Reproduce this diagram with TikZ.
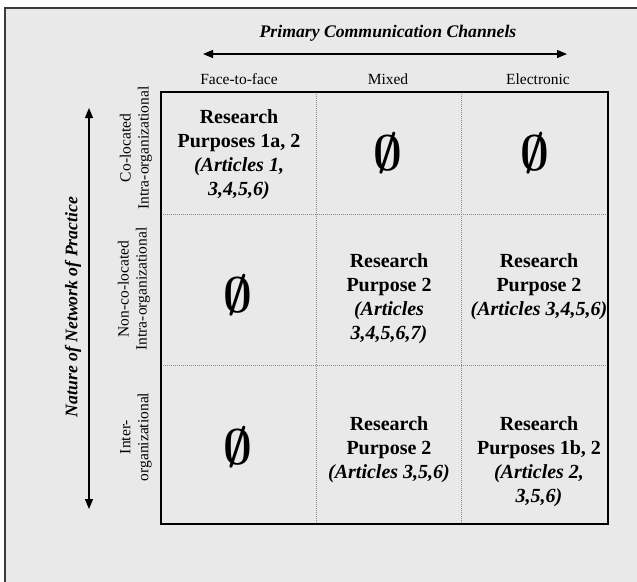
\RequirePackage{fix-cm}
\documentclass[tikz,border=0pt]{standalone}
\usepackage{fontspec}
\setmainfont{Liberation Serif}
\usetikzlibrary{arrows.meta}
\definecolor{panelgray}{HTML}{E9E9E9}
\definecolor{framegray}{HTML}{3C3C3C}
\definecolor{gridgray}{HTML}{8C8C8C}
\begin{document}
\begin{tikzpicture}[x=1pt,y=-1pt,
  heading/.style={font=\fontsize{17.7}{20}\selectfont\bfseries\itshape, inner sep=0},
  chanlabel/.style={font=\fontsize{15.5}{18}\selectfont, inner sep=0},
  rowlabel/.style={font=\fontsize{15.5}{18}\selectfont, align=center, rotate=90, inner sep=0},
  celltext/.style={font=\fontsize{20}{24}\selectfont\bfseries, align=center, inner sep=0},
  emptycell/.style={font=\fontsize{50}{50}\selectfont\boldmath, inner sep=0},
  axisarrow/.style={line width=1.2pt, {Triangle[length=10pt,width=8pt]}-{Triangle[length=10pt,width=8pt]}},
  outerbox/.style={draw=black, line width=1.4pt},
  cellrule/.style={draw=gridgray, line width=0.8pt, dash pattern=on 1pt off 1pt}]
\useasboundingbox (0,0) rectangle (637,581);

% panel behind everything
\begin{scope}
  \clip (0,0) rectangle (637,581);
  \draw[fill=panelgray, draw=framegray, line width=1.5pt] (5,8) rectangle (660,600);
\end{scope}

% horizontal axis
\node[heading] (htitle) at (388,33) {Primary Communication Channels};
\coordinate (hleft) at (203,54);
\coordinate (hright) at (567,54);
\draw[axisarrow] (hleft) -- (hright);
\node[chanlabel] (cf2f) at (239,79) {Face-to-face};
\node[chanlabel] (cmix) at (388,79) {Mixed};
\node[chanlabel] (cele) at (538,79) {Electronic};

% vertical axis
\node[heading, rotate=90] (vtitle) at (73,307) {Nature of Network of Practice};
\coordinate (vtop) at (89,108);
\coordinate (vbot) at (89,509);
\draw[axisarrow] (vtop) -- (vbot);
\node[rowlabel] (rco) at (136,148) {Co-located\\Intra-organizational};
\node[rowlabel] (rnon) at (134,289) {Non-co-located\\Intra-organizational};
\node[rowlabel] (rint) at (136,437) {Inter-\\organizational};

% grid
\coordinate (gtl) at (161,92);
\coordinate (gbr) at (608,524);
\draw[cellrule] (316,92) -- (316,524);
\draw[cellrule] (461,92) -- (461,524);
\draw[cellrule] (161,214) -- (608,214);
\draw[cellrule] (161,365) -- (608,365);
\draw[outerbox] (gtl) rectangle (gbr);

% cell contents
\node[celltext] (c11) at (239,155) {Research\\Purposes 1a, 2\\\textit{(Articles 1,}\\\textit{3,4,5,6)}};
\node[emptycell] (c12) at (388,153) {$\emptyset$};
\node[emptycell] (c13) at (535,153) {$\emptyset$};

\node[emptycell] (c21) at (238,295) {$\emptyset$};
\node[celltext] (c22) at (389,299) {Research\\Purpose 2\\\textit{(Articles}\\\textit{3,4,5,6,7)}};
\node[celltext] (c23) at (539,287) {Research\\Purpose 2\\\textit{(Articles 3,4,5,6)}};

\node[emptycell] (c31) at (238,447) {$\emptyset$};
\node[celltext] (c32) at (389,450) {Research\\Purpose 2\\\textit{(Articles 3,5,6)}};
\node[celltext] (c33) at (539,462) {Research\\Purposes 1b, 2\\\textit{(Articles 2,}\\\textit{3,5,6)}};
\end{tikzpicture}
\end{document}
